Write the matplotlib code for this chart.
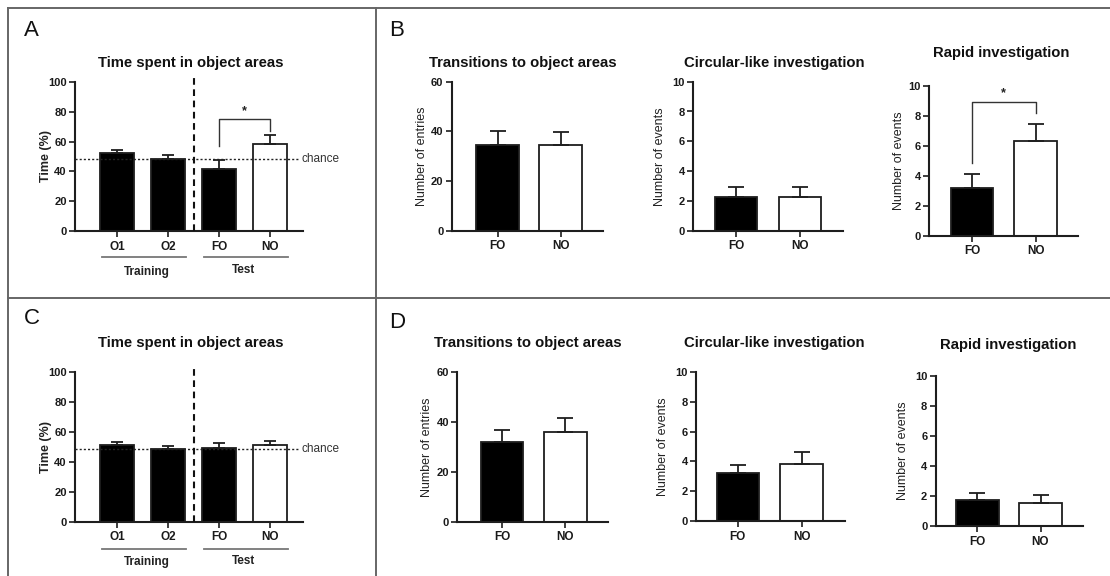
import matplotlib
matplotlib.use("Agg")
import matplotlib.pyplot as plt
from matplotlib.lines import Line2D

plt.rcParams['font.family'] = ['Liberation Sans', 'DejaVu Sans']

# ---------------- data ----------------
time_labels = ['O1', 'O2', 'FO', 'NO']
time_colors = ['black', 'black', 'black', 'white']
time_A_mean = [52.1, 48.3, 41.6, 58.6]
time_A_sem = [2.5, 2.5, 5.8, 5.8]
time_C_mean = [51.0, 48.8, 49.0, 51.0]
time_C_sem = [2.0, 1.5, 3.3, 2.9]
chance_level = 48.5

pair_labels = ['FO', 'NO']
pair_colors = ['black', 'white']
trans_B_mean = [34.4, 34.5]
trans_B_sem = [5.9, 5.4]
circ_B_mean = [2.24, 2.24]
circ_B_sem = [0.67, 0.67]
rapid_B_mean = [3.21, 6.31]
rapid_B_sem = [0.89, 1.13]
trans_D_mean = [32.1, 36.0]
trans_D_sem = [4.7, 5.6]
circ_D_mean = [3.24, 3.81]
circ_D_sem = [0.50, 0.84]
rapid_D_mean = [1.71, 1.53]
rapid_D_sem = [0.51, 0.51]

# significance brackets: (left leg bottom, right leg bottom, bracket level, star level)
sig_A = (57, 67, 75.2, 80.5)
sig_B_rapid = (4.84, 8.18, 8.91, 9.55)

W, H = 1110, 576
fig = plt.figure(figsize=(W / 100, H / 100), dpi=100)
fig.patch.set_facecolor('white')

AX_COLOR = '#1e1e1e'


def px_axes(l, t, r, b):
    return fig.add_axes([l / W, 1 - b / H, (r - l) / W, (b - t) / H])


def style_axes(ax, ymax, ystep):
    for s in ['top', 'right']:
        ax.spines[s].set_visible(False)
    for s in ['left', 'bottom']:
        ax.spines[s].set_color(AX_COLOR)
        ax.spines[s].set_linewidth(1.5)
    ax.set_ylim(0, ymax)
    ax.set_yticks(list(range(0, ymax + 1, ystep)))
    ax.tick_params(axis='both', direction='out', length=4, width=1.2,
                   color=AX_COLOR, pad=2)
    ax.tick_params(axis='y', labelsize=8)
    ax.tick_params(axis='x', labelsize=8.5, pad=3)
    for lab in ax.get_xticklabels() + ax.get_yticklabels():
        lab.set_fontweight('bold')
        lab.set_color('#1a1a1a')
    ax.set_facecolor('none')


def bars(ax, labels, means, sems, colors, width, capsize):
    xs = list(range(len(labels)))
    ax.bar(xs, means, width=width, color=colors, edgecolor=AX_COLOR,
           linewidth=1.3, zorder=2)
    ax.errorbar(xs, means, yerr=[[0] * len(sems), sems], fmt='none',
                ecolor=AX_COLOR, elinewidth=1.3, capsize=capsize,
                capthick=1.3, zorder=3)
    ax.set_xticks(xs)
    ax.set_xticklabels(labels)


def ylabel(ax, xpix, l, r, text, weight='normal'):
    ax.text((xpix - l) / (r - l), 0.5, text, transform=ax.transAxes,
            rotation=90, ha='center', va='center', fontsize=9,
            fontweight=weight, color='#222222')


def title(xc, yc, text):
    fig.text(xc / W, 1 - yc / H, text, ha='center', va='center',
             fontsize=10.7, fontweight='bold', color='#111111')


def bracket(ax, x0, x1, sig):
    y0, y1, yb, ys = sig
    ax.plot([x0, x0, x1, x1], [y0, yb, yb, y1], color='#333333', lw=1.0,
            clip_on=False, zorder=4)
    ax.text((x0 + x1) / 2, ys, '*', ha='center', va='center', fontsize=9,
            fontweight='bold', color='#222222')


# ---------------- panel frame lines ----------------
frame = dict(color='#666666', lw=1.4, transform=fig.transFigure)
fig.add_artist(Line2D([8 / W, 1], [1 - 7.5 / H, 1 - 7.5 / H], **frame))
fig.add_artist(Line2D([8 / W, 8 / W], [1 - 7.5 / H, 0], **frame))
fig.add_artist(Line2D([376 / W, 376 / W], [1 - 7.5 / H, 0], **frame))
fig.add_artist(Line2D([8 / W, 1], [1 - 298 / H, 1 - 298 / H], **frame))

for letter, x, y in [('A', 31, 31), ('B', 397, 30), ('C', 32, 319), ('D', 397, 322)]:
    fig.text(x / W, 1 - y / H, letter, ha='center', va='center', fontsize=16,
             color='#111111')


# ---------------- time spent panels (A, C) ----------------
def time_panel(top, bottom, means, sems, sig, underline_y, group_y):
    l, r = 75, 303
    c0, s = 117, 51
    ax = px_axes(l, top, r, bottom)
    bars(ax, time_labels, means, sems, time_colors, 34 / 51, 4.3)
    ax.set_xlim((l - c0) / s, (r - c0) / s)
    style_axes(ax, 100, 20)
    hpx = bottom - top
    # test/training divider
    ax.plot([1.5, 1.5], [0, 103], color='#111111', lw=1.5,
            ls=(0, (3.2, 2.2)), clip_on=False, zorder=5)
    # chance line
    ax.plot([(l - c0) / s, (298 - c0) / s], [chance_level, chance_level],
            color='#222222', lw=1.0, ls=(0, (1.5, 1.5)), clip_on=False, zorder=4)
    ax.text((302 - c0) / s, chance_level, 'chance', ha='left', va='center',
            fontsize=8.5, color='#333333', clip_on=False)
    if sig is not None:
        bracket(ax, 2, 3, sig)
    xt = ax.get_xaxis_transform()
    uy = (bottom - underline_y) / hpx
    ax.plot([(102 - c0) / s, (186 - c0) / s], [uy, uy], color='#777777',
            lw=1.3, transform=xt, clip_on=False)
    ax.plot([(204 - c0) / s, (288 - c0) / s], [uy, uy], color='#777777',
            lw=1.3, transform=xt, clip_on=False)
    gy = (bottom - group_y[0]) / hpx
    ax.text((146.5 - c0) / s, gy, 'Training', transform=xt, ha='center',
            va='center', fontsize=8.5, fontweight='bold', color='#222222')
    gy = (bottom - group_y[1]) / hpx
    ax.text((244 - c0) / s, gy, 'Test', transform=xt, ha='center',
            va='center', fontsize=8.5, fontweight='bold', color='#222222')
    ylabel(ax, 46, l, r, 'Time (%)', weight='bold')
    return ax


time_panel(82, 231, time_A_mean, time_A_sem, sig_A, 257, (272, 270))
title(191, 63, 'Time spent in object areas')
time_panel(372, 521.7, time_C_mean, time_C_sem, None, 548.7, (562, 561))
title(191, 342.7, 'Time spent in object areas')


# ---------------- two-bar panels (B, D) ----------------
def pair_panel(l, top, r, bottom, c0, c1, means, sems, ymax, ystep, ylab, ylab_x,
               sig=None):
    s = c1 - c0
    ax = px_axes(l, top, r, bottom)
    bars(ax, pair_labels, means, sems, pair_colors, 42.5 / s, 6)
    ax.set_xlim((l - c0) / s, (r - c0) / s)
    style_axes(ax, ymax, ystep)
    if sig is not None:
        bracket(ax, 0, 1, sig)
    ylabel(ax, ylab_x, l, r, ylab)
    return ax


pair_panel(451.7, 81.7, 602.7, 230.7, 497.5, 560.5, trans_B_mean, trans_B_sem,
           60, 20, 'Number of entries', 422)
title(522.5, 63, 'Transitions to object areas')
pair_panel(693.3, 81.7, 842.7, 230.7, 736, 800, circ_B_mean, circ_B_sem,
           10, 2, 'Number of events', 660)
title(774, 63, 'Circular-like investigation')
pair_panel(929.3, 86, 1078, 235.7, 972, 1035.5, rapid_B_mean, rapid_B_sem,
           10, 2, 'Number of events', 898.5, sig=sig_B_rapid)
title(1001, 53, 'Rapid investigation')

pair_panel(457.3, 372, 608.3, 521.7, 502.2, 565.3, trans_D_mean, trans_D_sem,
           60, 20, 'Number of entries', 427.5)
title(528.3, 342.7, 'Transitions to object areas')
pair_panel(696, 372, 845, 521, 737.8, 801.7, circ_D_mean, circ_D_sem,
           10, 2, 'Number of events', 662.7)
title(774, 342.7, 'Circular-like investigation')
pair_panel(935.7, 376, 1083, 526, 977.3, 1040.5, rapid_D_mean, rapid_D_sem,
           10, 2, 'Number of events', 903.5)
title(1008, 345.3, 'Rapid investigation')

fig.savefig('out.png', dpi=100, facecolor='white')
